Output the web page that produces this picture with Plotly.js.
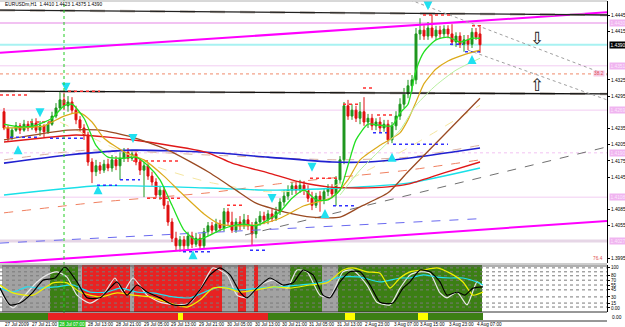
<!DOCTYPE html>
<html><head><meta charset="utf-8">
<script src="https://cdn.plot.ly/plotly-3.0.1.min.js"></script>
<style>html,body{margin:0;padding:0;background:#fff}#chart{width:625px;height:327px}</style>
</head><body><div id="chart"></div>
<script>
// ---------- DATA ----------
const symbolTitle = "EURUSDm,H1  1.4410 1.4423 1.4375 1.4390";
const openP = [1.4266,1.4236,1.4219,1.4232,1.4240,1.4232,1.4243,1.4236,1.4245,1.4232,
1.4240,1.4229,1.4243,1.4258,1.4273,1.4288,1.4277,1.4284,1.4269,1.4251,
1.4236,1.4223,1.4173,1.4155,1.4166,1.4158,1.4169,1.4162,1.4177,1.4166,
1.4180,1.4191,1.4180,1.4188,1.4173,1.4158,1.4166,1.4147,1.4136,1.4112,
1.4121,1.4093,1.4062,1.4032,1.4018,1.4029,1.4018,1.4036,1.4021,1.4032,
1.4018,1.4044,1.4055,1.4047,1.4058,1.4051,1.4081,1.4062,1.4047,1.4062,
1.4055,1.4066,1.4055,1.4040,1.4062,1.4073,1.4066,1.4077,1.4069,1.4081,
1.4099,1.4110,1.4121,1.4129,1.4121,1.4130,1.4121,1.4106,1.4093,1.4110,
1.4103,1.4118,1.4125,1.4114,1.4140,1.4177,1.4277,1.4258,1.4269,1.4254,
1.4266,1.4247,1.4254,1.4240,1.4247,1.4236,1.4243,1.4214,1.4240,1.4258,
1.4280,1.4299,1.4314,1.4325,1.4410,1.4417,1.4406,1.4421,1.4406,1.4417,
1.4410,1.4419,1.4410,1.4395,1.4406,1.4391,1.4399,1.4391,1.4413,1.4410];
const closeP = [1.4236,1.4217,1.4232,1.4240,1.4232,1.4243,1.4236,1.4245,1.4232,1.4240,
1.4229,1.4243,1.4258,1.4273,1.4288,1.4277,1.4284,1.4269,1.4251,1.4236,
1.4223,1.4173,1.4155,1.4166,1.4158,1.4169,1.4162,1.4177,1.4166,1.4180,
1.4191,1.4180,1.4188,1.4173,1.4158,1.4166,1.4147,1.4136,1.4112,1.4121,
1.4093,1.4062,1.4032,1.4018,1.4029,1.4018,1.4036,1.4021,1.4032,1.4018,
1.4044,1.4055,1.4047,1.4058,1.4051,1.4081,1.4062,1.4047,1.4062,1.4055,
1.4066,1.4055,1.4040,1.4062,1.4073,1.4066,1.4077,1.4069,1.4081,1.4099,
1.4110,1.4121,1.4129,1.4121,1.4130,1.4121,1.4106,1.4093,1.4110,1.4103,
1.4118,1.4125,1.4114,1.4140,1.4177,1.4277,1.4258,1.4269,1.4254,1.4266,
1.4247,1.4254,1.4240,1.4247,1.4236,1.4243,1.4214,1.4240,1.4258,1.4280,
1.4299,1.4314,1.4325,1.4410,1.4417,1.4406,1.4421,1.4406,1.4417,1.4410,
1.4419,1.4410,1.4395,1.4406,1.4391,1.4399,1.4391,1.4413,1.4404,1.4390];
const highP = [1.4273,1.4241,1.4236,1.4247,1.4245,1.4251,1.4249,1.4253,1.4254,1.4249,
1.4243,1.4247,1.4266,1.4282,1.4303,1.4306,1.4295,1.4293,1.4277,1.4258,
1.4243,1.4229,1.4180,1.4177,1.4173,1.4177,1.4179,1.4186,1.4184,1.4191,
1.4199,1.4199,1.4195,1.4193,1.4180,1.4173,1.4171,1.4155,1.4143,1.4129,
1.4127,1.4101,1.4069,1.4044,1.4036,1.4036,1.4044,1.4044,1.4042,1.4040,
1.4051,1.4062,1.4062,1.4068,1.4066,1.4088,1.4088,1.4081,1.4069,1.4073,
1.4077,1.4075,1.4062,1.4069,1.4082,1.4081,1.4084,1.4086,1.4090,1.4106,
1.4121,1.4130,1.4136,1.4136,1.4140,1.4138,1.4130,1.4118,1.4116,1.4119,
1.4125,1.4132,1.4132,1.4147,1.4184,1.4284,1.4288,1.4280,1.4277,1.4284,
1.4293,1.4262,1.4262,1.4254,1.4256,1.4251,1.4251,1.4247,1.4267,1.4291,
1.4310,1.4325,1.4334,1.4421,1.4439,1.4426,1.4432,1.4445,1.4425,1.4425,
1.4426,1.4426,1.4428,1.4413,1.4413,1.4408,1.4408,1.4421,1.4421,1.4423];
const lowP = [1.4232,1.4210,1.4214,1.4229,1.4225,1.4229,1.4230,1.4232,1.4227,1.4221,
1.4219,1.4225,1.4240,1.4254,1.4269,1.4269,1.4266,1.4262,1.4243,1.4229,
1.4214,1.4166,1.4134,1.4147,1.4151,1.4153,1.4156,1.4155,1.4158,1.4140,
1.4173,1.4173,1.4175,1.4167,1.4149,1.4108,1.4140,1.4129,1.4106,1.4103,
1.4086,1.4055,1.4025,1.4010,1.4007,1.4010,1.4010,1.4014,1.4016,1.4010,
1.4012,1.4036,1.4040,1.4042,1.4044,1.4045,1.4055,1.4042,1.4042,1.4047,
1.4049,1.4047,1.4019,1.4032,1.4055,1.4058,1.4058,1.4062,1.4064,1.4075,
1.4092,1.4103,1.4112,1.4114,1.4116,1.4112,1.4099,1.4084,1.4088,1.4081,
1.4095,1.4110,1.4106,1.4092,1.4132,1.4169,1.4251,1.4251,1.4247,1.4243,
1.4240,1.4236,1.4232,1.4232,1.4227,1.4229,1.4206,1.4208,1.4232,1.4251,
1.4273,1.4291,1.4303,1.4317,1.4399,1.4399,1.4399,1.4402,1.4399,1.4402,
1.4404,1.4402,1.4389,1.4386,1.4384,1.4377,1.4380,1.4384,1.4399,1.4375];

// moving averages (bar index, price)
const maGreenX = [0,4,8,12,15,17,20,23,26,30,33,36,39,42,45,48,51,54,57,60,63,66,69,72,75,78,81,84,86,88,91,94,97,99,101,103,105,108,111,114,117,119];
const maGreenY = [1.4243,1.4238,1.4241,1.4254,1.4277,1.4280,1.4254,1.4204,1.4182,1.4180,1.4182,1.4166,1.4140,1.4093,1.4047,1.4029,1.4036,1.4047,1.4055,1.4058,1.4055,1.4066,1.4081,1.4106,1.4121,1.4103,1.4103,1.4121,1.4167,1.4214,1.4243,1.4241,1.4240,1.4264,1.4280,1.4343,1.4377,1.4399,1.4404,1.4395,1.4402,1.4402];
const maLightGreenX = [84,89,94,99,103,108,113,119];
const maLightGreenY = [1.4112,1.4158,1.4195,1.4232,1.4278,1.4315,1.4343,1.4365];
const maOrangeX = [0,10,15,19,22,25,30,35,40,44,50,54,60,64,69,75,82,86,89,94,99,101,103,105,108,111,114,117,119];
const maOrangeY = [1.4236,1.4240,1.4258,1.4264,1.4247,1.4217,1.4192,1.4177,1.4147,1.4118,1.4077,1.4058,1.4055,1.4058,1.4069,1.4092,1.4108,1.4140,1.4177,1.4204,1.4227,1.4251,1.4284,1.4318,1.4345,1.4360,1.4369,1.4376,1.4380];
const maBrownX = [0,16,24,32,41,51,58,63,71,77,84,89,96,101,110,119];
const maBrownY = [1.4214,1.4232,1.4232,1.4219,1.4195,1.4155,1.4121,1.4097,1.4079,1.4071,1.4071,1.4090,1.4116,1.4155,1.4223,1.4291];
const maRedX = [0,9,18,26,36,51,57,66,74,81,89,96,101,110,119];
const maRedY = [1.4210,1.4217,1.4223,1.4219,1.4210,1.4190,1.4171,1.4153,1.4136,1.4127,1.4125,1.4127,1.4132,1.4153,1.4173];
const maBlueX = [0,16,32,51,66,82,91,101,119];
const maBlueY = [1.4171,1.4186,1.4195,1.4191,1.4182,1.4173,1.4173,1.4180,1.4199];
const maCyanX = [0,24,51,66,84,101,119];
const maCyanY = [1.4112,1.4129,1.4125,1.4121,1.4125,1.4134,1.4162];
const maSalmonX = [0,24,51,70,84,101,119];
const maSalmonY = [1.4079,1.4099,1.4116,1.4134,1.4145,1.4158,1.4177];
const maBeigeX = [0,21,51,84,101,119];
const maBeigeY = [1.4177,1.4195,1.4186,1.4177,1.4182,1.4204];
const maPaleX = [14,26,39,51,66,81,91,101,119];
const maPaleY = [1.4247,1.4204,1.4162,1.4136,1.4118,1.4125,1.4158,1.4199,1.4278];

// trend lines [x0,x1] bar index, [y0,y1] price
const trendNames = ["chanTop","chanBot","resTop","res92","greyTrend","blueDash","diag1","diag2"];
const trendX0 = [-1,-1,-1,-1,60.25,-1,101.5,116];
const trendX1 = [150.75,150.75,150.75,150.75,150.75,118.5,150.75,150.75];
const trendY0 = [1.4375,1.3986,1.4454,1.4304,1.4038,1.4023,1.4473,1.4380];
const trendY1 = [1.4450,1.4064,1.4445,1.4299,1.4201,1.4068,1.4334,1.4288];
const trendColor = ["#ff00ff","#ff00ff","#222222","#111111","#707070","#6a6af0","#a0a0a0","#a0a0a0"];
const trendWidth = [2,2,1.3,1.3,1,1,1,1];
const trendDash = ["solid","solid","solid","solid","dash","dash","dot","dot"];

// horizontal levels
const levelPrice = [1.4430,1.4390,1.4351,1.4336,1.4269,1.4190,1.4108,1.4027];
const levelColor = ["#f2c2f2","#a8f2f2","#f2cdf2","#f08a6a","#f2cdf2","#f2c2f2","#f2cdf2","#e6d6e6"];
const levelWidth = [2,2,1,1,1,1,1,3];
const levelDash = ["solid","solid","solid","dot","solid","dot","solid","solid"];
const levelTag = ["pink","black","pink","none","pink","pink","pink","pink"];

// short dotted support/resistance marks
const segX0 = [-1,16,6.5,1.5,11.5,23.25,32.25,29,35.75,44.75,55.75,61.5,76.5,82.25,84.75,89.75,93.25,92.25,97.25,104.75,111.5,115.25,117];
const segX1 = [6.5,24,12,8.25,19.75,28.25,44,34,44.75,51.5,59.75,65.75,83.25,88.25,89,92.75,97.25,95.75,111,111.5,114.75,119,119.5];
const segP  = [1.4297,1.4304,1.4247,1.4219,1.4217,1.4130,1.4175,1.4140,1.4106,1.4007,1.4093,1.4010,1.4143,1.4092,1.4280,1.4310,1.4260,1.4227,1.4206,1.4445,1.4391,1.4377,1.4425];
const segKind = ["r","r","r","b","b","b","r","b","r","b","r","b","r","b","r","r","r","b","b","r","b","b","r"];

// fractal arrows
const arrowDownX = [9,15.5,32.25,67,77,106];
const arrowDownY = [1.4256,1.4303,1.4208,1.4097,1.4155,1.4454];
const arrowUpX = [3.5,23.5,47.25,80.25,97,117];
const arrowUpY = [1.4204,1.4130,1.4010,1.4086,1.4190,1.4371];

// price axis ticks (those hidden behind line tags in the reference are left out)
const priceTicks = [1.3995,1.4055,1.4085,1.4145,1.4175,1.4205,1.4235,1.4295,1.4325,1.4415,1.4445];

// time labels (bar index of label start)
const timeLabelX = [-0.25,6.5,20.5,27.5,34.5,41.25,48.25,55.25,62.25,69,75.75,82.75,89.75,97,103.5,110.75,117.75];
const timeLabels = ["27 Jul 2009","27 Jul 21:00","28 Jul 13:00","28 Jul 21:00","29 Jul 05:00","29 Jul 13:00","29 Jul 21:00","30 Jul 05:00","30 Jul 13:00","30 Jul 21:00","31 Jul 05:00","31 Jul 13:00","2 Aug 23:00","3 Aug 07:00","3 Aug 15:00","3 Aug 23:00","4 Aug 07:00"];
const cursorBar = 15;
const cursorLabel = "28 Jul 07:00";

// indicator window (0..100)
const subBlackX = [-1,1.5,4,7.25,9.75,12.75,15.25,18.25,20.75,24,26.5,28.25,30.75,33.25,35.75,39,42.25,45.75,49,51.5,54,56.5,59,60.75,63.25,66.5,69.75,72.25,74.75,77.25,79.75,81.5,84,86.5,89,91.5,94,97.25,99.75,101.5,104,106.5,109,110.75,113.25,115.25,117.25,119.75];
const subBlackY = [52,14,18,43,70,75,100,66,30,30,52,66,36,59,43,30,14,14,48,82,98,82,43,30,52,75,59,64,93,82,36,30,66,89,89,59,20,18,52,66,93,89,66,36,43,36,52,55];
const subWhiteX = [-1,2.25,5.25,8.25,10.75,13.25,15.75,18.25,21.5,24.75,27.75,29.75,32.25,35.75,39,43.25,46.5,49,52.25,55.75,58.25,60.75,64,67.25,70.75,73.25,75.75,79,81.5,84.75,87.25,90.75,93.25,96.5,99,101.5,104,106.5,109,110.75,113.25,115.75,118.25,119.75];
const subWhiteY = [43,7,36,66,82,89,77,36,18,36,75,43,75,36,20,14,18,48,98,82,36,30,59,70,52,93,89,36,32,89,93,59,20,14,52,82,89,86,41,30,43,14,66,55];
const subCyanX = [-1,2.25,5.75,9,13.25,17.25,21.5,25.75,29,33.25,37.25,42.25,46.5,51.5,54,59,64,69,74,79,84,89,94,99,101.5,104.75,108.25,111.5,114.75,118.25,119.75];
const subCyanY = [52,43,55,52,55,59,43,43,52,43,41,32,30,48,55,48,52,55,59,64,77,77,66,75,75,82,77,75,75,66,59];
const subYellowX = [-1,2.25,7.25,12.25,15.75,19,24,28.25,32.25,36.5,40.75,45.75,49,52.25,55.75,59,63.25,67.25,71.5,76.5,80.75,84.75,87.25,90.75,94,96.5,99,101.5,104.75,108.25,111.5,114.75,117.25,119.75];
const subYellowY = [59,41,36,64,64,43,32,41,36,32,20,9,25,52,52,43,48,55,52,59,64,93,98,89,86,52,75,89,93,98,86,66,36,43];
const subZoneStart = [0,12,19,20,32,33,55,59,61,63,64,72,80,84];
const subZoneKind  = ["grey","green","grey","red","grey","red","grey","red","grey","red","grey","green","grey","green"];
const subTicks = [98,80,70,59,48,32,18,7];
const subTickText = ["100","80","70","55","45","30","15","0.00"];
const subGrid = [98,89,80,70,59,48,32,18,9];

// bottom state strip
const stripX0 = [-1,11,66,43.5,85.25,103.5];
const stripX1 = [11,66,119.75,44.75,87.75,106];
const stripKind = ["green","red","green","yellow","yellow","yellow"];

// ---------- BUILD ----------
const PR = 607/625;                 // right edge of plotting area (paper)
const XMAX = 150.75;
const py = p => 1 - p/327;           // pixel row -> paper y
const bars = openP.map((_, i) => i);
const zoneColors = {grey:"#a2a2a2", green:"#3c7f14", red:"#e82222", yellow:"#ffff00"};
const FONT = "Liberation Sans";

const traces = [];
function line(x, y, color, width, dash, xa, ya) {
  traces.push({type:"scatter", mode:"lines", x, y, xaxis:xa||"x", yaxis:ya||"y",
    line:{color, width, dash:dash||"solid", shape:"spline", smoothing:0.6}, hoverinfo:"skip"});
}

// sub-window background columns
const subColor = bars.map(i => {
  let k = subZoneKind[0];
  subZoneStart.forEach((s, j) => { if (i >= s) k = subZoneKind[j]; });
  return zoneColors[k];
});
traces.push({type:"bar", x:bars, y:bars.map(() => 106.8), base:bars.map(() => -2.3),
  xaxis:"x2", yaxis:"y2", marker:{color:subColor, line:{width:0}}, width:0.76, hoverinfo:"skip"});
// sub-window dotted grid
subGrid.forEach(v => traces.push({type:"scatter", mode:"lines", x:[-1, XMAX], y:[v, v], xaxis:"x2", yaxis:"y2",
  line:{color:"#7a7a7a", width:1, dash:"dot"}, hoverinfo:"skip"}));

// trendlines below candles
for (let k = 0; k < trendNames.length; k++) {
  if (trendNames[k] === "resTop" || trendNames[k] === "res92") {
    traces.push({type:"scatter", mode:"lines", x:[trendX0[k],trendX1[k]], y:[trendY0[k],trendY1[k]],
      line:{color:"#c0b8b0", width:2.5, dash:"longdash"}, hoverinfo:"skip"});
  }
  traces.push({type:"scatter", mode:"lines", x:[trendX0[k],trendX1[k]], y:[trendY0[k],trendY1[k]],
    line:{color:trendColor[k], width:trendWidth[k], dash:trendDash[k]}, hoverinfo:"skip"});
}

line(maPaleX, maPaleY, "#f5e6a0", 1, "dash");
line(maBeigeX, maBeigeY, "#d8b0a0", 1, "dash");
line(maSalmonX, maSalmonY, "#f08060", 1, "dash");
line(maCyanX, maCyanY, "#19e0e8", 1.4);
line(maBlueX, maBlueY, "#2020d0", 1.6);
line(maRedX, maRedY, "#e01818", 1.4);
line(maBrownX, maBrownY, "#9a4a22", 1.3);

// dotted marks
segKind.forEach((k, j) => traces.push({type:"scatter", mode:"lines", x:[segX0[j], segX1[j]], y:[segP[j], segP[j]],
  line:{color: k === "r" ? "#ff3030" : "#3030ff", width:1.5, dash:"dot"}, hoverinfo:"skip"}));

// candles
traces.push({type:"candlestick", x:bars, open:openP, high:highP, low:lowP, close:closeP,
  increasing:{line:{color:"#1e961e", width:1}, fillcolor:"#1e961e"},
  decreasing:{line:{color:"#e01010", width:1}, fillcolor:"#e01010"},
  whiskerwidth:0, hoverinfo:"skip"});

line(maOrangeX, maOrangeY, "#dcaa1a", 1.2);
line(maLightGreenX, maLightGreenY, "#b8f0a0", 1);
line(maGreenX, maGreenY, "#22e022", 1.3);

traces.push({type:"scatter", mode:"markers", x:arrowDownX, y:arrowDownY,
  marker:{symbol:"arrow-down", size:9, color:"#20e0f0"}, hoverinfo:"skip"});
traces.push({type:"scatter", mode:"markers", x:arrowUpX, y:arrowUpY,
  marker:{symbol:"arrow-up", size:9, color:"#20e0f0"}, hoverinfo:"skip"});

// indicator lines
line(subWhiteX, subWhiteY, "#e8e8e8", 1.2, "solid", "x2", "y2");
line(subCyanX, subCyanY, "#20e0f0", 1.2, "solid", "x2", "y2");
line(subYellowX, subYellowY, "#f0f000", 1.2, "solid", "x2", "y2");
line(subBlackX, subBlackY, "#000000", 1.2, "solid", "x2", "y2");

// shapes
const shapes = [];
levelPrice.forEach((p, j) => shapes.push({type:"line", xref:"paper", x0:0, x1:PR, yref:"y", y0:p, y1:p,
  line:{color:levelColor[j], width:levelWidth[j], dash:levelDash[j]}, layer:"below"}));
shapes.push({type:"line", xref:"x", x0:cursorBar, x1:cursorBar, yref:"paper", y0:py(313), y1:1,
  line:{color:"#22cc22", width:1, dash:"dot"}});
stripKind.forEach((k, j) => shapes.push({type:"rect", xref:"x", x0:stripX0[j], x1:stripX1[j], yref:"paper",
  y0:py(320), y1:py(313), fillcolor:zoneColors[k], line:{width:0}}));
[[1,"#b0b0b0"],[264,"#9a9a9a"],[266,"#606060"],[312,"#303030"],[321,"#303030"]].forEach(r =>
  shapes.push({type:"line", xref:"paper", x0:0, x1:PR, yref:"paper", y0:py(r[0]), y1:py(r[0]), line:{color:r[1], width:1}}));

// annotations
const ann = [];
ann.push({xref:"paper", yref:"paper", x:0.004, y:py(5), xanchor:"left", yanchor:"middle", showarrow:false,
  text:symbolTitle, font:{family:FONT, size:4.8, color:"#000"}});
levelPrice.forEach((p, j) => {
  if (levelTag[j] === "none") return;
  const black = levelTag[j] === "black";
  ann.push({xref:"paper", yref:"y", x:PR + 0.003, y:p, xanchor:"left", yanchor:"middle", showarrow:false,
    text:p.toFixed(4), bgcolor: black ? "#000" : "#f0b4f0", borderpad:0.5,
    font:{family:FONT, size:4.8, color: black ? "#fff" : "#fbe8fb"}});
});
ann.push({xref:"paper", yref:"y", x:PR - 0.004, y:levelPrice[3], xanchor:"right", yanchor:"middle", showarrow:false,
  text:"38.2", bgcolor:"#f6cce6", borderpad:0, font:{family:FONT, size:4.8, color:"#e05050"}});
ann.push({xref:"paper", yref:"paper", x:PR - 0.004, y:py(258), xanchor:"right", yanchor:"middle", showarrow:false,
  text:"76.4", font:{family:FONT, size:4.8, color:"#e05050"}});
ann.push({xref:"x", yref:"y", x:133.25, y:1.4402, showarrow:false, text:"⇩",
  font:{family:"DejaVu Sans", size:17, color:"#202020"}});
ann.push({xref:"x", yref:"y", x:133.25, y:1.4315, showarrow:false, text:"⇧",
  font:{family:"DejaVu Sans", size:17, color:"#202020"}});
timeLabels.forEach((t, j) => ann.push({xref:"x", yref:"paper", x:timeLabelX[j], y:py(324), xanchor:"left", yanchor:"middle",
  showarrow:false, text:t, font:{family:FONT, size:4.6, color:"#000"}}));
ann.push({xref:"x", yref:"paper", x:cursorBar - 1.5, y:py(324), xanchor:"left", yanchor:"middle", showarrow:false,
  text:cursorLabel, bgcolor:"#2ec82e", borderpad:0.5, font:{family:FONT, size:4.6, color:"#fff"}});
ann.push({xref:"paper", yref:"paper", x:PR + 0.004, y:py(317), xanchor:"left", yanchor:"middle", showarrow:false,
  text:"0.00", font:{family:FONT, size:4.8, color:"#000"}});

const layout = {
  width:625, height:327, margin:{l:0, r:0, t:0, b:0}, paper_bgcolor:"#fff", plot_bgcolor:"#fff",
  showlegend:false, dragmode:false, bargap:0,
  xaxis:{domain:[0, PR], range:[-1, XMAX], visible:false, rangeslider:{visible:false}, anchor:"y"},
  yaxis:{domain:[py(263), py(1)], range:[1.39862, 1.44709], side:"right", anchor:"x",
    tickvals:priceTicks, tickformat:".4f", ticks:"outside", ticklen:2, tickcolor:"#000",
    tickfont:{family:FONT, size:4.8, color:"#000"}, showline:true, linecolor:"#000", linewidth:1,
    showgrid:false, zeroline:false},
  xaxis2:{domain:[0, PR], range:[-1, XMAX], visible:false, anchor:"y2"},
  yaxis2:{domain:[py(312), py(265)], range:[-2.3, 104.5], side:"right", anchor:"x2",
    tickvals:subTicks, ticktext:subTickText, ticks:"outside", ticklen:2, tickcolor:"#000",
    tickfont:{family:FONT, size:4.6, color:"#000"}, showline:true, linecolor:"#000", linewidth:1,
    showgrid:false, zeroline:false},
  shapes, annotations:ann
};
Plotly.newPlot("chart", traces, layout, {staticPlot:true, displayModeBar:false});
</script></body></html>
